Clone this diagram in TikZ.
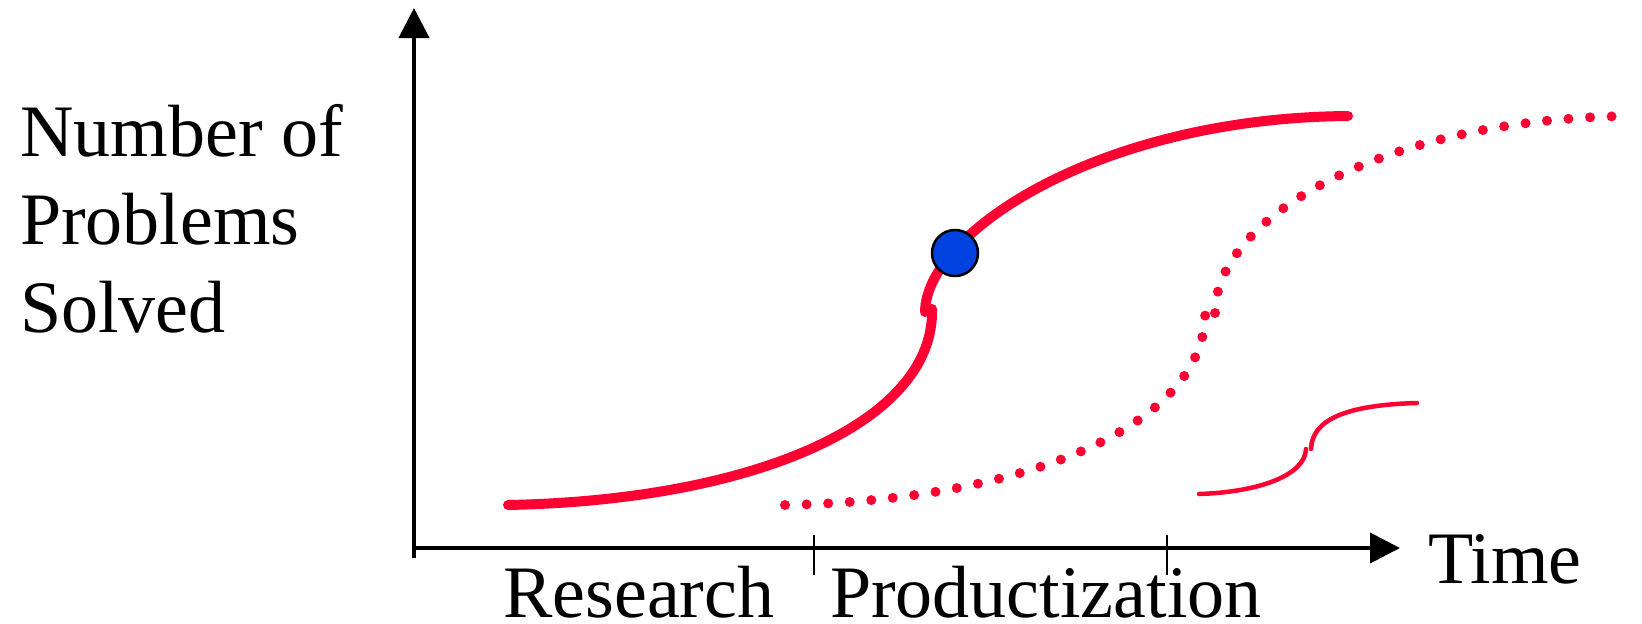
\documentclass[tikz,border=0pt]{standalone}
\usepackage{fontspec}
\setmainfont{Liberation Serif}
\usetikzlibrary{arrows.meta}
\definecolor{curvered}{RGB}{255,0,51}
\definecolor{dotblue}{RGB}{0,66,224}
\begin{document}
\begin{tikzpicture}[x=1pt,y=-1pt,
  axis/.style={line width=4pt,-{Triangle[length=30pt,width=30pt]}},
  tickmark/.style={line width=2pt},
  solidcurve/.style={curvered,line width=10pt,line cap=round},
  dotcurve/.style={curvered,line width=10pt,line cap=round,dash pattern=on 0pt off 21.6pt},
  smallcurve/.style={curvered,line width=4.5pt,line cap=round},
  lbl/.style={inner sep=0pt,anchor=base west,font=\fontsize{74}{88}\selectfont}]
\useasboundingbox (0,0) rectangle (1642,624);
% axes
\coordinate (ybot) at (414,558);
\coordinate (ytop) at (414,8);
\coordinate (xleft) at (412,548);
\coordinate (xright) at (1400,548);
\draw[axis] (ybot) -- (ytop);
\draw[axis] (xleft) -- (xright);
% ticks
\coordinate (t1a) at (814,535); \coordinate (t1b) at (814,575);
\coordinate (t2a) at (1167,535); \coordinate (t2b) at (1167,575);
\draw[tickmark] (t1a) -- (t1b);
\draw[tickmark] (t2a) -- (t2b);
% solid curve
\draw[solidcurve] (508,505) .. controls (760,500) and (935,420) .. (932,309);
\draw[solidcurve] (925,312) .. controls (926,232) and (1100,118) .. (1348,116);
% dotted curve
\draw[dotcurve] (785,505) .. controls (1037,500) and (1212,420) .. (1205,306);
\draw[dotcurve] (1215,313) .. controls (1215,220) and (1380,118) .. (1633,116);
% small curve
\draw[smallcurve] (1199,494) .. controls (1260,492) and (1305,475) .. (1306,449);
\draw[smallcurve] (1311,449) .. controls (1312,420) and (1345,405) .. (1417,403);
% blue point
\node[circle,fill=dotblue,draw=black,line width=2.5pt,minimum size=46pt,inner sep=0pt] (pt) at (955,253) {};
% labels
\node[lbl] (ylab1) at (20,156) {Number of};
\node[lbl] (ylab2) at (20,244) {Problems};
\node[lbl] (ylab3) at (20,332) {Solved};
\node[lbl] (time) at (1428,583) {Time};
\node[lbl] (research) at (503,617) {Research};
\node[lbl] (product) at (830,617) {Productization};
\end{tikzpicture}
\end{document}
